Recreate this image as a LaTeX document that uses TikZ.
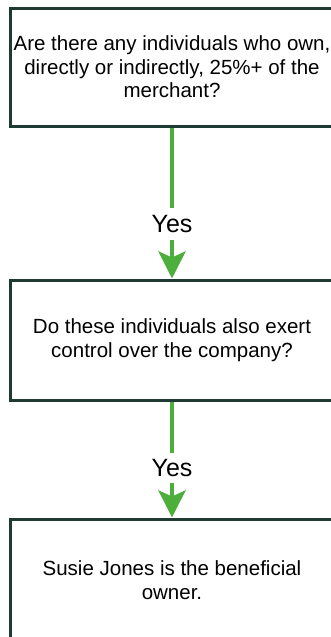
\documentclass[tikz,border=0pt]{standalone}
\usepackage{fontspec}
\setmainfont{Liberation Sans}
\usetikzlibrary{arrows.meta}
\definecolor{boxline}{HTML}{1D3B33}
\definecolor{arrowgreen}{HTML}{4DAF3B}
\begin{document}
\begin{tikzpicture}[x=1pt,y=-1pt,
  box/.style={draw=boxline, line width=3pt, fill=white, minimum width=324pt,
    inner sep=0pt, align=center, font=\fontsize{20.5}{23.5}\selectfont},
  flow/.style={draw=arrowgreen, line width=4.5pt},
  flowtip/.style={flow, -{Stealth[length=27pt, width=27pt, inset=6pt]}},
  lbl/.style={font=\fontsize{25}{28}\selectfont, inner sep=0pt}]
\useasboundingbox (0,0) rectangle (331,637);
\clip (0,0) rectangle (331,637);
\node[box, minimum height=118pt] (q1) at (172,67)
  {Are there any individuals who own,\\ directly or indirectly, 25\%+ of the\\ merchant?};
\node[box, minimum height=120pt] (q2) at (172,340)
  {Do these individuals also exert\\ control over the company?};
\node[box, minimum height=122pt] (q3) at (172,580)
  {Susie Jones is the beneficial\\ owner.};
\node[lbl, minimum height=32pt] (y1) at (172,224) {Yes};
\node[lbl, minimum height=30pt] (y2) at (172,468) {Yes};
\draw[flow] (q1.south) -- (y1.north);
\draw[flowtip] (y1.south) -- (q2.north);
\draw[flow] (q2.south) -- (y2.north);
\draw[flowtip] (y2.south) -- (q3.north);
\end{tikzpicture}
\end{document}
